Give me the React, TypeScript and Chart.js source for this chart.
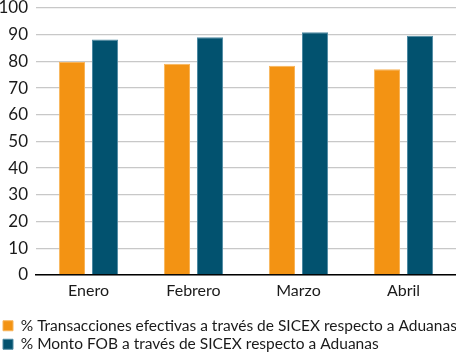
import React, { useEffect, useRef } from "react";
import { Chart, registerables } from "chart.js";

Chart.register(...registerables);

const categories = ["Enero", "Febrero", "Marzo", "Abril"];
const transacciones = [79.8, 79.1, 78.4, 77.0];
const montoFOB = [88.2, 89.0, 90.9, 89.6];
const seriesNames = [
  "% Transacciones efectivas a través de SICEX respecto a Aduanas",
  "% Monto FOB a través de SICEX respecto a Aduanas",
];

export default function App() {
  const ref = useRef<HTMLCanvasElement | null>(null);
  useEffect(() => {
    const font = "Lato, 'Open Sans', sans-serif";
    const chart = new Chart(ref.current!, {
      type: "bar",
      data: {
        labels: categories,
        datasets: [
          { label: seriesNames[0], data: transacciones, backgroundColor: "#F39313", borderColor: "#F8B45A", borderWidth: 1 },
          { label: seriesNames[1], data: montoFOB, backgroundColor: "#02526F", borderColor: "#4E8AA3", borderWidth: 1 },
        ],
      },
      options: {
        animation: false,
        responsive: false,
        maintainAspectRatio: false,
        layout: { autoPadding: false, padding: { left: 0, right: 0, top: 8, bottom: -6 } },
        datasets: { bar: { categoryPercentage: 0.63, barPercentage: 0.79 } },
        plugins: {
          tooltip: { enabled: false },
          legend: {
            position: "bottom",
            align: "start",
            labels: { boxWidth: 10, boxHeight: 10, padding: 3, color: "#1a1a1a", font: { family: font, size: 15.5 } },
          },
        },
        scales: {
          x: {
            grid: { display: false, drawTicks: false },
            border: { display: true, color: "#000", width: 1.5 },
            ticks: { color: "#1a1a1a", padding: 6, font: { family: font, size: 16 } },
            afterFit: (scale: any) => {
              scale.height += 9;
              scale.paddingLeft = 0;
              scale.paddingRight = 0;
            },
          },
          y: {
            min: 0,
            max: 100,
            ticks: { stepSize: 10, color: "#1a1a1a", padding: 8, font: { family: font, size: 17 } },
            grid: { color: "#c8c8c8", lineWidth: 1.2, drawTicks: false },
            border: { display: false },
            afterFit: (scale: any) => {
              scale.width = 36;
              scale.paddingTop = 8;
              scale.paddingBottom = 0;
            },
          },
        },
      },
    });
    return () => chart.destroy();
  }, []);
  return (
    <div style={{ position: "fixed", left: 0, top: 0, width: 456, height: 356 }}>
      <canvas ref={ref} width={456} height={356} style={{ width: 456, height: 356, display: "block" }} />
    </div>
  );
}
